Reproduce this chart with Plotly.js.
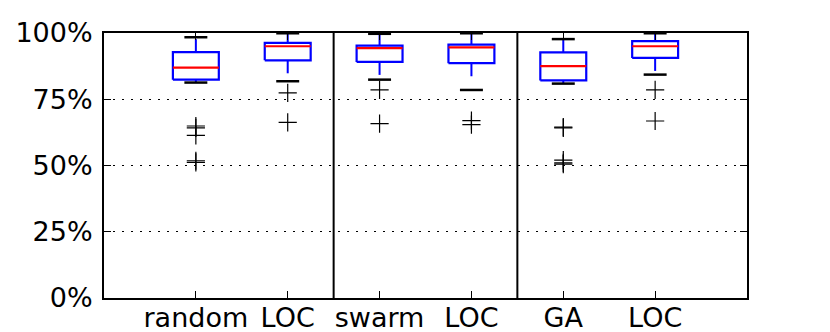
<!DOCTYPE html>
<html>
<head>
<meta charset="utf-8">
<script src="https://cdn.plot.ly/plotly-3.0.1.min.js"></script>
<style>
  html, body { margin: 0; padding: 0; background: #fff; }
  #chart { width: 830px; height: 332px; }
</style>
</head>
<body>
<div id="chart"></div>
<script>
// Box plot: search method vs. LOC, one pair per method

const categories = ['random', 'LOC', 'swarm', 'LOC', 'GA', 'LOC'];
const positions = [1, 2, 3, 4, 5, 6];
const groupBreaks = [2.5, 4.5];

// box statistics (%)
const lowerWhisker = [81.3, 81.8, 82.4, 78.5, 80.9, 84.3];
const q1Values     = [82.4, 89.7, 89.1, 88.6, 82.1, 90.6];
const medianValues = [86.9, 95.0, 94.3, 94.6, 87.5, 95.0];
const q3Values     = [92.8, 96.3, 95.2, 95.6, 92.7, 96.9];
const upperWhisker = [98.4, 99.9, 99.7, 99.9, 97.7, 99.9];

// outliers (%)
const outliers = [
    [64.9, 64.2, 61.4, 51.8, 51.2],
    [77.4, 66.3],
    [78.5, 65.8],
    [66.9, 65.4],
    [64.5, 64.2, 52.0, 51.0, 50.5],
    [78.5, 66.8]
];

const yTicks = [0, 25, 50, 75, 100];

function buildTraces() {
    const half = 0.25;     // half box width
    const capHalf = 0.125; // half cap width

    const boxX = [], boxY = [];
    const medX = [], medY = [];
    const whiskX = [], whiskY = [];
    const capX = [], capY = [];
    const outX = [], outY = [];

    positions.forEach((p, i) => {
        boxX.push(p - half, p + half, p + half, p - half, p - half, null);
        boxY.push(q1Values[i], q1Values[i], q3Values[i], q3Values[i], q1Values[i], null);

        medX.push(p - half, p + half, null);
        medY.push(medianValues[i], medianValues[i], null);

        // whiskers drawn outward from the box edge
        whiskX.push(p, p, null, p, p, null);
        whiskY.push(q1Values[i], lowerWhisker[i], null, q3Values[i], upperWhisker[i], null);

        capX.push(p - capHalf, p + capHalf, null, p - capHalf, p + capHalf, null);
        capY.push(lowerWhisker[i], lowerWhisker[i], null, upperWhisker[i], upperWhisker[i], null);

        outliers[i].forEach(v => { outX.push(p); outY.push(v); });
    });

    return [
        {
            x: whiskX, y: whiskY, type: 'scatter', mode: 'lines',
            line: { color: '#0000ff', width: 2, dash: '13px,13px' },
            hoverinfo: 'skip', showlegend: false
        },
        {
            x: capX, y: capY, type: 'scatter', mode: 'lines',
            line: { color: '#000000', width: 2.5 },
            hoverinfo: 'skip', showlegend: false
        },
        {
            x: boxX, y: boxY, type: 'scatter', mode: 'lines',
            line: { color: '#0000ff', width: 2.2 },
            hoverinfo: 'skip', showlegend: false
        },
        {
            x: medX, y: medY, type: 'scatter', mode: 'lines',
            line: { color: '#ff0000', width: 2.2 },
            hoverinfo: 'skip', showlegend: false
        },
        {
            x: outX, y: outY, type: 'scatter', mode: 'markers',
            marker: { symbol: 'cross-thin', size: 13, line: { color: '#000000', width: 1.2 } },
            hoverinfo: 'skip', showlegend: false
        }
    ];
}

const shapes = groupBreaks.map(b => ({
    type: 'line', xref: 'x', yref: 'paper',
    x0: b, x1: b, y0: 0, y1: 1,
    line: { color: '#000000', width: 2 }
}));

const layout = {
    width: 830,
    height: 332,
    margin: { l: 104, r: 83, t: 33, b: 34 },
    paper_bgcolor: '#ffffff',
    plot_bgcolor: '#ffffff',
    font: { family: 'DejaVu Sans', size: 27, color: '#000000' },
    showlegend: false,
    xaxis: {
        range: [0, 7],
        tickmode: 'array',
        tickvals: positions,
        ticktext: categories,
        ticks: 'inside',
        ticklen: 7,
        tickwidth: 1,
        tickcolor: '#000000',
        showgrid: false,
        zeroline: false,
        showline: true,
        linecolor: '#000000',
        linewidth: 2,
        mirror: 'ticks',
        ticklabelstandoff: -5
    },
    yaxis: {
        range: [0, 100],
        tickmode: 'array',
        tickvals: yTicks,
        ticktext: yTicks.map(t => t + '%'),
        ticks: 'inside',
        ticklen: 7,
        tickwidth: 1,
        tickcolor: '#000000',
        showgrid: true,
        gridcolor: '#000000',
        gridwidth: 1,
        griddash: '2px,7px',
        zeroline: false,
        showline: true,
        linecolor: '#000000',
        linewidth: 2,
        mirror: 'ticks',
        ticklabelstandoff: 4
    },
    shapes: shapes
};

Plotly.newPlot('chart', buildTraces(), layout, { displayModeBar: false, staticPlot: true });
</script>
</body>
</html>
